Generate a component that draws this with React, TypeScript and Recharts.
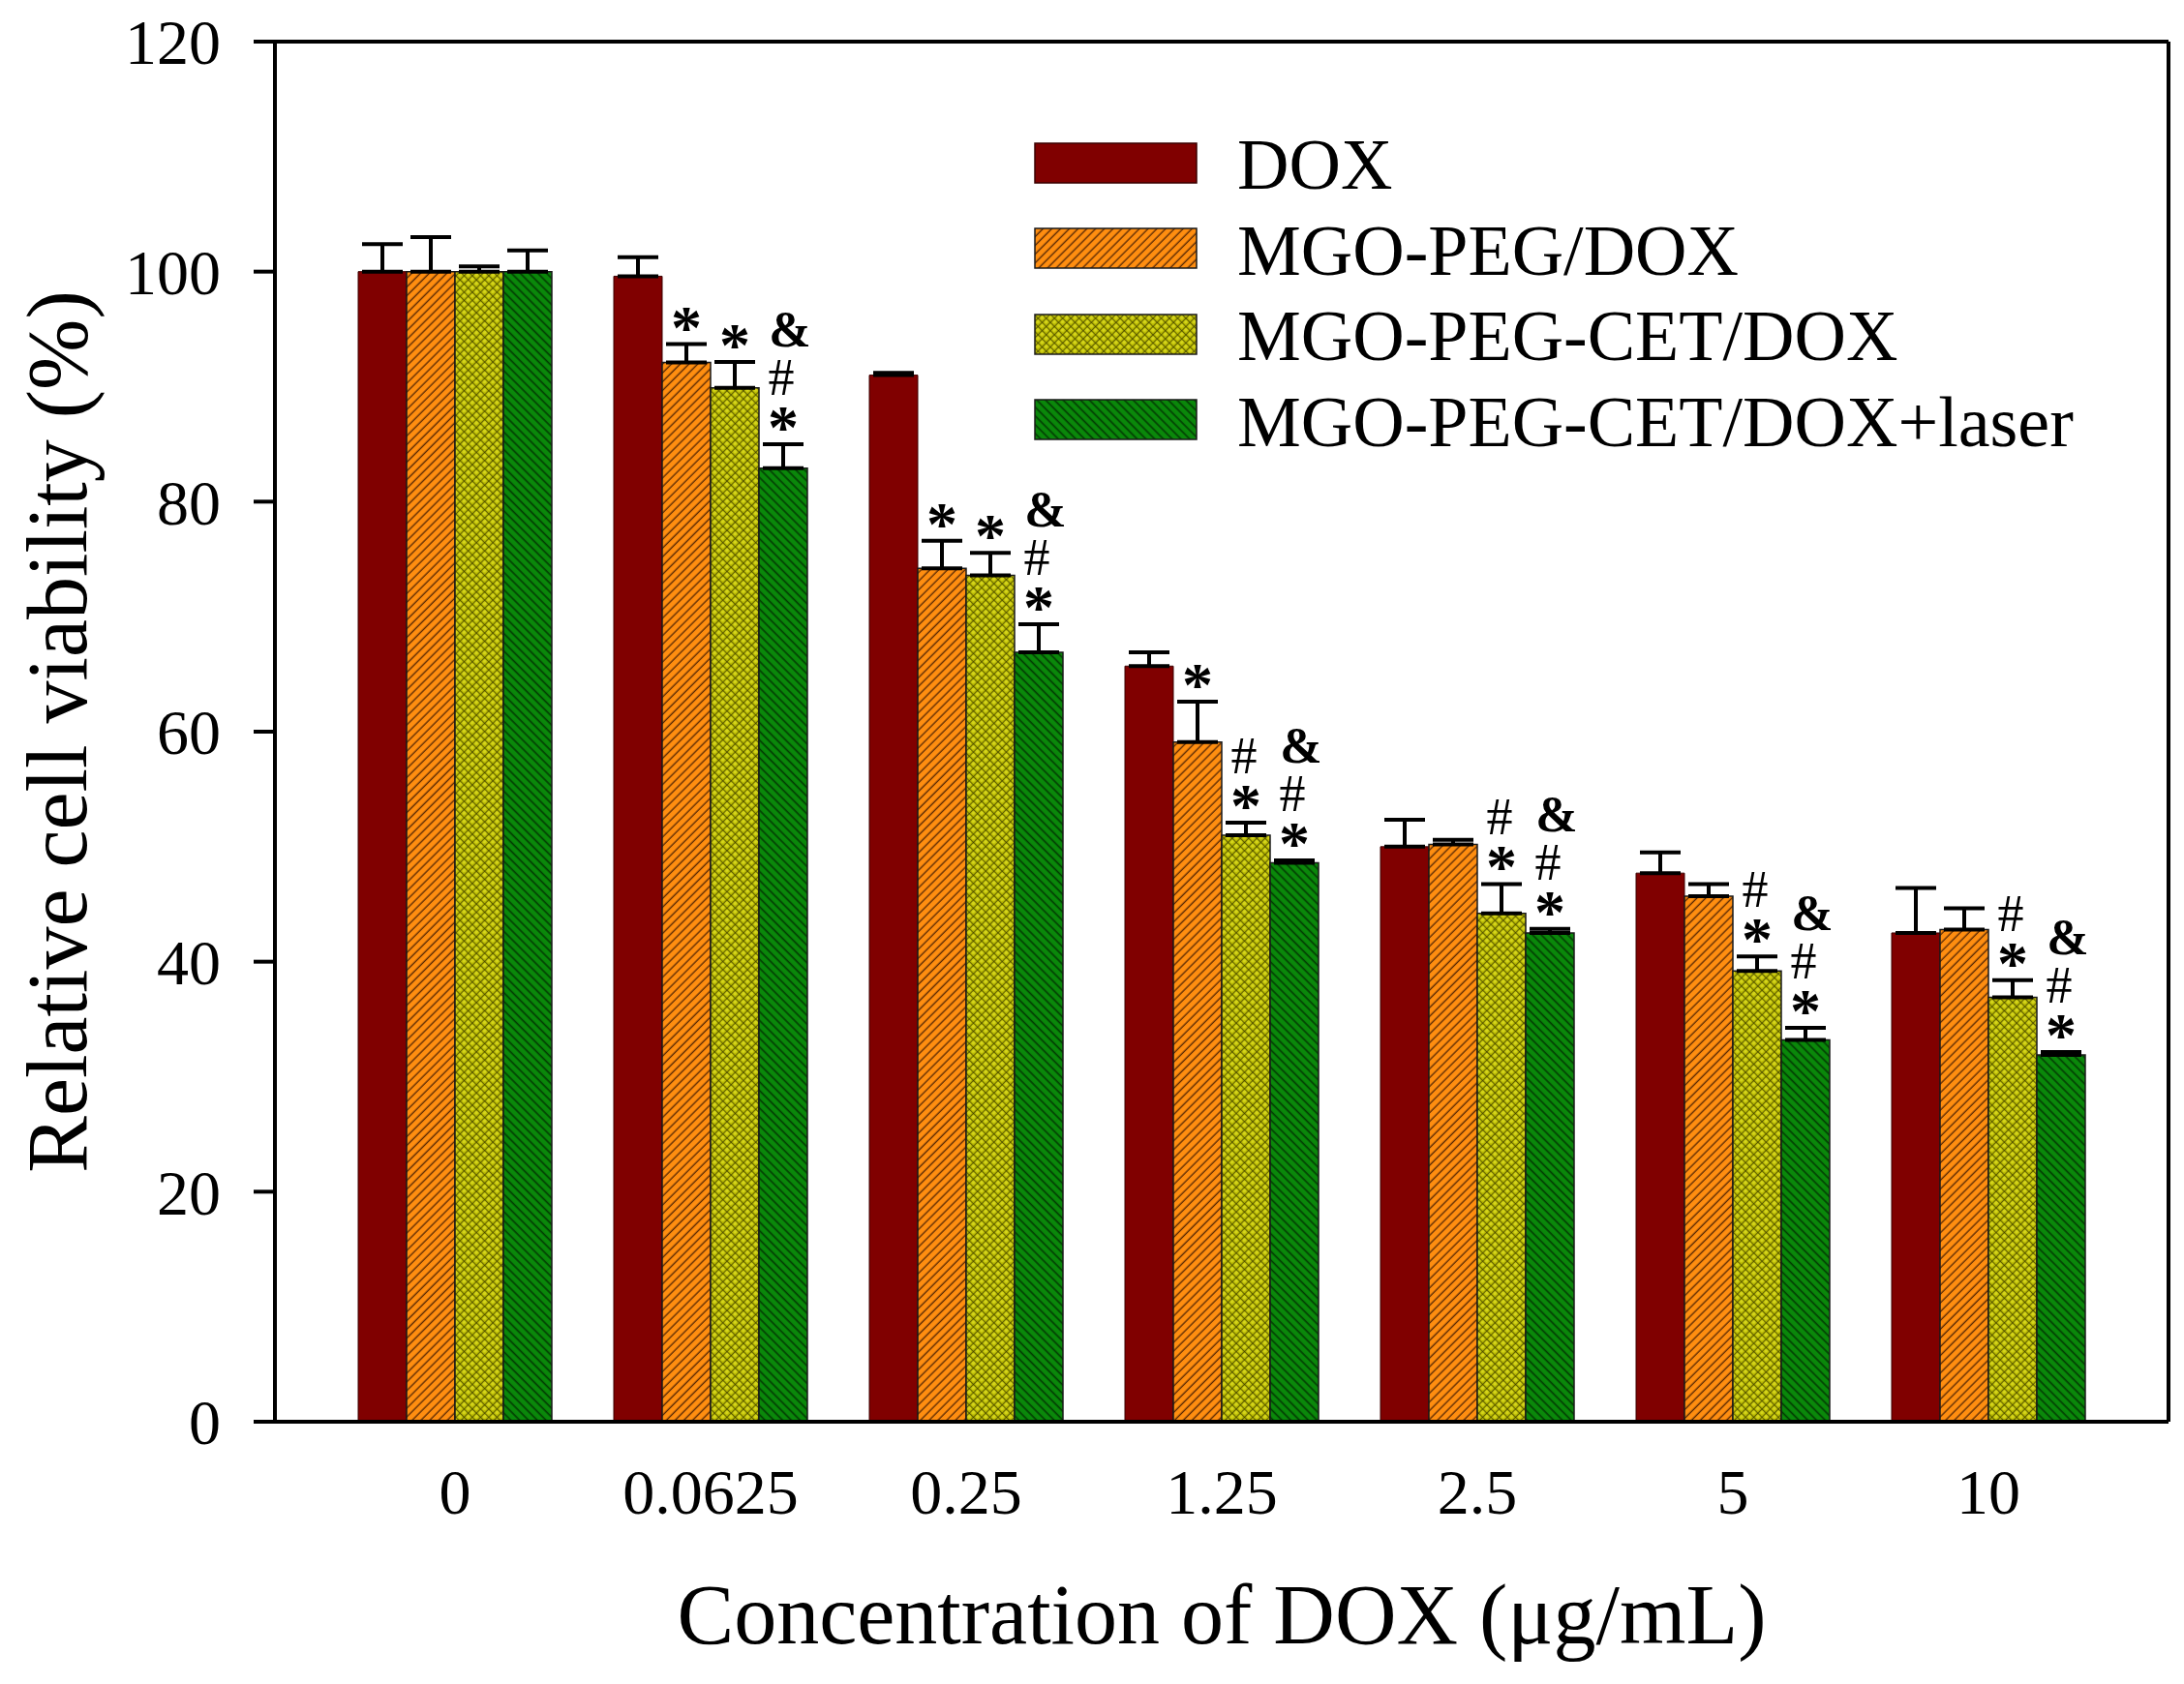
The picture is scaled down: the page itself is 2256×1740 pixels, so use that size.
import React from 'react';
import {
  BarChart,
  Bar,
  XAxis,
  YAxis,
  ErrorBar,
  LabelList,
  Legend,
  ReferenceLine,
} from 'recharts';

// dose groups (µg/mL)
const categories = ['0', '0.0625', '0.25', '1.25', '2.5', '5', '10'];

// relative cell viability (%) and upper error (SD) per group
const doxValues = [100, 99.6, 91.0, 65.7, 50.0, 47.7, 42.5];
const doxErrors = [2.4, 1.65, 0.2, 1.2, 2.35, 1.8, 3.9];

const pegValues = [100, 92.1, 74.2, 59.1, 50.2, 45.7, 42.8];
const pegErrors = [3.0, 1.6, 2.4, 3.5, 0.4, 1.05, 1.85];

const cetValues = [100, 89.9, 73.6, 51.0, 44.2, 39.2, 36.9];
const cetErrors = [0.45, 2.25, 1.95, 1.1, 2.55, 1.25, 1.5];

const laserValues = [100, 82.9, 66.9, 48.6, 42.5, 33.2, 31.9];
const laserErrors = [1.85, 2.1, 2.45, 0.2, 0.35, 1.05, 0.25];

// significance marks, stacked bottom-up over each bar
const pegMarks = ['', '*', '*', '*', '', '', ''];
const cetMarks = ['', '*', '*', '*#', '*#', '*#', '*#'];
const laserMarks = ['', '*#&', '*#&', '*#&', '*#&', '*#&', '*#&'];

const yTicks = [0, 20, 40, 60, 80, 100, 120];

const FONT = "'Liberation Serif', 'Times New Roman', serif";

const series = [
  { key: 'dox', name: 'DOX', fill: '#800000', stroke: '#3a0000' },
  { key: 'peg', name: 'MGO-PEG/DOX', fill: 'url(#hatchOrange)', stroke: '#1a1a1a' },
  { key: 'cet', name: 'MGO-PEG-CET/DOX', fill: 'url(#crossYellow)', stroke: '#1a1a1a' },
  { key: 'laser', name: 'MGO-PEG-CET/DOX+laser', fill: 'url(#hatchGreen)', stroke: '#1a1a1a' },
];

const data = categories.map((name, i) => ({
  name,
  dox: doxValues[i],
  doxErr: [0, doxErrors[i]],
  peg: pegValues[i],
  pegErr: [0, pegErrors[i]],
  pegMark: pegMarks[i],
  cet: cetValues[i],
  cetErr: [0, cetErrors[i]],
  cetMark: cetMarks[i],
  laser: laserValues[i],
  laserErr: [0, laserErrors[i]],
  laserMark: laserMarks[i],
}));

const markStyle: Record<string, { size: number; weight: string; lift: number; dx: number }> = {
  '*': { size: 64, weight: 'bold', lift: -4, dx: 0 },
  '#': { size: 54, weight: 'normal', lift: 51, dx: -2 },
  '&': { size: 52, weight: 'bold', lift: 101, dx: 7 },
};

const makeMarks = (values: number[], errors: number[]) => (props: any) => {
  const { x, y, width, height, value, index } = props;
  if (!value) return null;
  const perUnit = height / values[index];
  const capY = y - errors[index] * perUnit;
  const cx = x + width / 2;
  return (
    <g>
      {String(value)
        .split('')
        .map((m) => {
          const s = markStyle[m];
          return (
            <text
              key={m}
              x={cx + s.dx}
              y={capY - s.lift}
              textAnchor="middle"
              fontFamily={FONT}
              fontSize={s.size}
              fontWeight={s.weight}
              fill="#000"
            >
              {m}
            </text>
          );
        })}
    </g>
  );
};

const YTitle = (props: any) => {
  const { viewBox } = props;
  const cx = viewBox.x + 89;
  const cy = viewBox.y + viewBox.height / 2;
  return (
    <text
      x={cx}
      y={cy}
      transform={`rotate(-90 ${cx} ${cy})`}
      textAnchor="middle"
      fontFamily={FONT}
      fontSize={88}
      fill="#000"
    >
      Relative cell viability (%)
    </text>
  );
};

const XTitle = (props: any) => {
  const { viewBox } = props;
  return (
    <text
      x={viewBox.x + viewBox.width / 2}
      y={viewBox.y + 229}
      textAnchor="middle"
      fontFamily={FONT}
      fontSize={88}
      fill="#000"
    >
      Concentration of DOX (μg/mL)
    </text>
  );
};

const LegendBox = () => (
  <div style={{ fontFamily: FONT }}>
    {series.map((s) => (
      <div key={s.key} style={{ display: 'flex', alignItems: 'center', height: 88.5 }}>
        <svg width={169} height={43} style={{ display: 'block' }}>
          <rect x={1} y={1} width={167} height={41} fill={s.fill} stroke={s.stroke} strokeWidth={1.5} />
        </svg>
        <span
          style={{
            marginLeft: 41,
            fontSize: 74,
            lineHeight: 1,
            paddingTop: 4,
            color: '#000',
            whiteSpace: 'nowrap',
          }}
        >
          {s.name}
        </span>
      </div>
    ))}
  </div>
);

export default function App() {
  return (
    <div style={{ position: 'absolute', left: 0, top: 0, width: 2256, height: 1740, background: '#fff' }}>
      <BarChart
        width={2256}
        height={1740}
        data={data}
        margin={{ top: 43, right: 0, bottom: 0, left: 0 }}
        barGap={0}
        barSize={50}
      >
        <defs>
          <pattern id="hatchOrange" patternUnits="userSpaceOnUse" width={6.4} height={6.4} patternTransform="rotate(45)">
            <rect width={6.4} height={6.4} fill="#ff8e10" />
            <line x1={1.2} y1={0} x2={1.2} y2={6.4} stroke="#5c2a04" strokeWidth={1.4} />
          </pattern>
          <pattern id="crossYellow" patternUnits="userSpaceOnUse" width={6} height={6} patternTransform="rotate(45)">
            <rect width={6} height={6} fill="#b4b400" />
            <circle cx={3} cy={3} r={1.9} fill="#d6d61c" />
            <line x1={0} y1={0} x2={0} y2={6} stroke="#363600" strokeWidth={1.3} />
            <line x1={0} y1={0} x2={6} y2={0} stroke="#363600" strokeWidth={1.3} />
          </pattern>
          <pattern id="hatchGreen" patternUnits="userSpaceOnUse" width={6.4} height={6.4} patternTransform="rotate(-45)">
            <rect width={6.4} height={6.4} fill="#0a880a" />
            <line x1={1.2} y1={0} x2={1.2} y2={6.4} stroke="#023d02" strokeWidth={1.7} />
          </pattern>
        </defs>

        <XAxis
          dataKey="name"
          height={271}
          padding={{ left: 54, right: 54 }}
          axisLine={{ stroke: '#000', strokeWidth: 4 }}
          tickLine={false}
          tickSize={0}
          tickMargin={48}
          tick={{ fill: '#000', fontSize: 66, fontFamily: FONT }}
          interval={0}
          label={{ content: XTitle }}
        />
        <YAxis
          width={284}
          domain={[0, 120]}
          ticks={yTicks}
          allowDataOverflow
          axisLine={{ stroke: '#000', strokeWidth: 4 }}
          tickLine={{ stroke: '#000', strokeWidth: 4 }}
          tickSize={22}
          tickMargin={34}
          tick={{ fill: '#000', fontSize: 66, fontFamily: FONT }}
          label={{ content: YTitle }}
        />
        <YAxis
          yAxisId="frame"
          orientation="right"
          width={16}
          domain={[0, 120]}
          ticks={yTicks}
          axisLine={{ stroke: '#000', strokeWidth: 4 }}
          tickLine={false}
          tick={false}
        />
        <ReferenceLine y={120} stroke="#000" strokeWidth={4} ifOverflow="visible" />

        <Legend
          layout="vertical"
          align="center"
          verticalAlign="middle"
          content={() => <LegendBox />}
          wrapperStyle={{ left: 1068, top: 124, width: 1170, height: 354 }}
        />

        <Bar dataKey="dox" name="DOX" fill="#800000" stroke="#3a0000" strokeWidth={1} isAnimationActive={false}>
          <ErrorBar dataKey="doxErr" direction="y" width={21} stroke="#000" strokeWidth={4} />
        </Bar>
        <Bar dataKey="peg" name="MGO-PEG/DOX" fill="url(#hatchOrange)" stroke="#1a1a1a" strokeWidth={1.5} isAnimationActive={false}>
          <ErrorBar dataKey="pegErr" direction="y" width={21} stroke="#000" strokeWidth={4} />
          <LabelList dataKey="pegMark" content={makeMarks(pegValues, pegErrors)} />
        </Bar>
        <Bar dataKey="cet" name="MGO-PEG-CET/DOX" fill="url(#crossYellow)" stroke="#1a1a1a" strokeWidth={1.5} isAnimationActive={false}>
          <ErrorBar dataKey="cetErr" direction="y" width={21} stroke="#000" strokeWidth={4} />
          <LabelList dataKey="cetMark" content={makeMarks(cetValues, cetErrors)} />
        </Bar>
        <Bar dataKey="laser" name="MGO-PEG-CET/DOX+laser" fill="url(#hatchGreen)" stroke="#1a1a1a" strokeWidth={1.5} isAnimationActive={false}>
          <ErrorBar dataKey="laserErr" direction="y" width={21} stroke="#000" strokeWidth={4} />
          <LabelList dataKey="laserMark" content={makeMarks(laserValues, laserErrors)} />
        </Bar>
      </BarChart>
    </div>
  );
}
